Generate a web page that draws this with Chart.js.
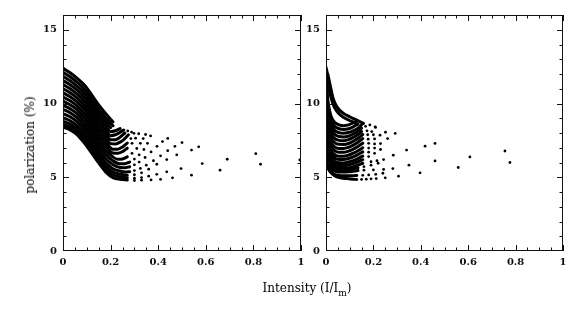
<!DOCTYPE html>
<html>
<head>
<meta charset="utf-8">
<script src="https://cdn.jsdelivr.net/npm/chart.js@4.4.1/dist/chart.umd.min.js"></script>
<style>
  html, body { margin: 0; padding: 0; background: #fff; }
  #wrap { position: relative; width: 577px; height: 320px; overflow: hidden; }
  canvas { position: absolute; top: 0; }
  #leftCanvas { left: 0; }
  #rightCanvas { left: 304px; }
  .axis-title { position: absolute; font-family: 'DejaVu Serif', serif; font-size: 12px; color: #000; white-space: nowrap; }
  #yTitle { left: 30px; top: 145px; transform: translate(-50%, -50%) rotate(-90deg); }
  #xTitle { left: 307px; top: 281px; transform: translateX(-50%); }
  #xTitle .sub { font-size: 9px; position: relative; top: 4px; }
</style>
</head>
<body>
<div id="wrap">
  <canvas id="leftCanvas" width="310" height="320"></canvas>
  <canvas id="rightCanvas" width="273" height="320"></canvas>
  <div class="axis-title" id="yTitle">polarization (%)</div>
  <div class="axis-title" id="xTitle">Intensity (I/I<span class="sub">m</span>)</div>
</div>
<script>
/* tick values shared by both panels */
const xTicks = [0, 0.2, 0.4, 0.6, 0.8, 1];
const yTicks = [0, 5, 10, 15];

/* left panel: dense part of each model track (dots merge into a stripe) */
const leftRuns = [
  [[0,12.40],[0.03,12.08],[0.06,11.70],[0.09,11.25],[0.12,10.60],[0.15,9.90],[0.18,9.30],[0.21,8.75]],
  [[0,12.12],[0.03,11.81],[0.06,11.43],[0.09,10.97],[0.12,10.32],[0.15,9.62],[0.18,9.02],[0.21,8.49]],
  [[0,11.84],[0.03,11.54],[0.06,11.16],[0.09,10.70],[0.12,10.05],[0.15,9.35],[0.18,8.75],[0.20,8.36]],
  [[0,11.56],[0.03,11.27],[0.06,10.90],[0.09,10.42],[0.12,9.77],[0.15,9.07],[0.18,8.47],[0.20,8.09],[0.22,8.15],[0.24,8.30]],
  [[0,11.28],[0.03,11.00],[0.06,10.63],[0.09,10.15],[0.12,9.49],[0.15,8.80],[0.18,8.19],[0.20,7.82],[0.22,7.88],[0.24,8.05],[0.255,8.20]],
  [[0,11.00],[0.03,10.73],[0.06,10.36],[0.09,9.87],[0.12,9.22],[0.15,8.52],[0.18,7.92],[0.20,7.55],[0.22,7.55],[0.24,7.72],[0.26,8.00]],
  [[0,10.72],[0.03,10.45],[0.06,10.09],[0.09,9.60],[0.12,8.94],[0.15,8.25],[0.18,7.64],[0.20,7.28],[0.22,7.26],[0.24,7.38],[0.26,7.62],[0.275,7.88]],
  [[0,10.44],[0.03,10.18],[0.06,9.82],[0.09,9.32],[0.12,8.66],[0.15,7.97],[0.18,7.36],[0.21,6.90],[0.23,6.90],[0.25,7.05],[0.27,7.32]],
  [[0,10.16],[0.03,9.91],[0.06,9.56],[0.09,9.04],[0.12,8.39],[0.15,7.70],[0.18,7.09],[0.21,6.64],[0.23,6.62],[0.25,6.74],[0.27,6.97]],
  [[0,9.88],[0.03,9.64],[0.06,9.29],[0.09,8.77],[0.12,8.11],[0.15,7.42],[0.18,6.81],[0.21,6.37],[0.23,6.22],[0.25,6.24],[0.27,6.38]],
  [[0,9.60],[0.03,9.37],[0.06,9.02],[0.09,8.49],[0.12,7.84],[0.15,7.15],[0.18,6.54],[0.21,6.11],[0.24,5.91],[0.26,5.92],[0.28,6.03]],
  [[0,9.32],[0.03,9.10],[0.06,8.75],[0.09,8.22],[0.12,7.56],[0.15,6.87],[0.18,6.26],[0.21,5.85],[0.24,5.66],[0.26,5.65],[0.28,5.71]],
  [[0,9.04],[0.03,8.83],[0.06,8.48],[0.09,7.94],[0.12,7.28],[0.15,6.60],[0.18,5.98],[0.21,5.58],[0.24,5.42],[0.26,5.36],[0.28,5.38]],
  [[0,8.80],[0.03,8.60],[0.06,8.25],[0.09,7.70],[0.12,7.05],[0.15,6.36],[0.18,5.75],[0.21,5.36],[0.24,5.21],[0.27,5.14]],
  [[0,8.60],[0.03,8.40],[0.06,8.06],[0.09,7.51],[0.12,6.85],[0.15,6.17],[0.18,5.55],[0.21,5.17],[0.24,5.03],[0.27,4.97]],
  [[0,8.40],[0.03,8.21],[0.06,7.87],[0.09,7.31],[0.12,6.65],[0.15,5.97],[0.18,5.35],[0.21,4.98],[0.24,4.86],[0.27,4.81]]
];

/* left panel: sparse outer part of the same tracks (separate dots) */
const leftDots = [
  [],
  [],
  [],
  [],
  [],
  [[0.272,8.14]],
  [[0.288,8.06]],
  [[0.285,7.62],[0.298,7.98]],
  [[0.29,7.30],[0.305,7.65],[0.318,7.95]],
  [[0.29,6.62],[0.31,6.95],[0.325,7.30],[0.337,7.62],[0.347,7.90]],
  [[0.30,6.23],[0.32,6.52],[0.34,6.88],[0.355,7.30],[0.368,7.80]],
  [[0.30,5.84],[0.32,6.03],[0.345,6.34],[0.37,6.72],[0.395,7.10],[0.418,7.42],[0.44,7.63]],
  [[0.30,5.45],[0.325,5.60],[0.35,5.82],[0.38,6.12],[0.41,6.45],[0.44,6.80],[0.47,7.10],[0.50,7.35]],
  [[0.30,5.17],[0.33,5.30],[0.36,5.55],[0.394,5.88],[0.436,6.20],[0.478,6.52],[0.54,6.84],[0.57,7.06]],
  [[0.30,4.94],[0.33,4.98],[0.36,5.07],[0.394,5.20],[0.436,5.37],[0.496,5.59],[0.585,5.93],[0.69,6.22],[0.81,6.60]],
  [[0.30,4.78],[0.33,4.80],[0.37,4.82],[0.41,4.86],[0.46,4.96],[0.54,5.14],[0.66,5.48],[0.83,5.88],[0.995,6.17]]
];

/* right panel: dense part of each track (steep drop at the axis, then a fan) */
const rightRuns = [
  [[0,12.45],[0.005,12.10],[0.01,11.80],[0.02,11.05],[0.03,10.35],[0.046,9.78],[0.074,9.33],[0.10,9.10],[0.13,8.87],[0.158,8.65]],
  [[0,12.15],[0.004,11.75],[0.008,11.40],[0.014,10.90],[0.022,10.35],[0.035,9.75],[0.055,9.30],[0.075,9.05],[0.095,8.88],[0.115,8.74],[0.13,8.62]],
  [[0,11.85],[0.004,10.90],[0.008,10.20],[0.014,9.60],[0.022,9.10],[0.035,8.75],[0.055,8.55],[0.075,8.50],[0.095,8.55],[0.115,8.68],[0.13,8.80]],
  [[0,11.70],[0.004,10.65],[0.008,9.90],[0.014,9.30],[0.022,8.83],[0.035,8.48],[0.055,8.29],[0.075,8.24],[0.095,8.29],[0.115,8.42],[0.135,8.60]],
  [[0,11.55],[0.004,10.40],[0.008,9.60],[0.014,9.00],[0.022,8.55],[0.035,8.20],[0.055,8.02],[0.075,7.98],[0.095,8.03],[0.115,8.15],[0.135,8.33],[0.15,8.55]],
  [[0,11.40],[0.004,10.15],[0.008,9.33],[0.014,8.70],[0.022,8.25],[0.035,7.93],[0.055,7.76],[0.075,7.73],[0.095,7.79],[0.115,7.93],[0.135,8.12],[0.15,8.33]],
  [[0,11.25],[0.004,9.90],[0.008,9.05],[0.014,8.40],[0.022,7.95],[0.035,7.65],[0.055,7.50],[0.075,7.48],[0.095,7.55],[0.115,7.70],[0.135,7.90],[0.15,8.10]],
  [[0,11.10],[0.004,9.65],[0.008,8.78],[0.014,8.10],[0.022,7.65],[0.035,7.37],[0.055,7.23],[0.075,7.22],[0.095,7.29],[0.115,7.44],[0.135,7.64],[0.155,7.90]],
  [[0,10.95],[0.004,9.40],[0.008,8.50],[0.014,7.80],[0.022,7.35],[0.035,7.08],[0.055,6.95],[0.075,6.95],[0.095,7.03],[0.115,7.18],[0.135,7.38],[0.155,7.62]],
  [[0,10.80],[0.004,9.18],[0.008,8.25],[0.014,7.55],[0.022,7.10],[0.035,6.82],[0.055,6.69],[0.075,6.69],[0.095,6.77],[0.115,6.91],[0.135,7.09],[0.155,7.31]],
  [[0,10.65],[0.004,8.95],[0.008,8.00],[0.014,7.30],[0.022,6.85],[0.035,6.55],[0.055,6.42],[0.075,6.42],[0.095,6.50],[0.115,6.63],[0.135,6.80],[0.155,7.00]],
  [[0,10.50],[0.004,8.73],[0.008,7.75],[0.014,7.08],[0.022,6.63],[0.035,6.33],[0.055,6.20],[0.075,6.20],[0.095,6.27],[0.115,6.38],[0.135,6.54],[0.155,6.72]],
  [[0,10.35],[0.004,8.50],[0.008,7.50],[0.014,6.85],[0.022,6.40],[0.035,6.10],[0.055,5.98],[0.075,5.97],[0.095,6.03],[0.115,6.13],[0.135,6.27],[0.155,6.43]],
  [[0,10.20],[0.004,8.28],[0.008,7.28],[0.014,6.65],[0.022,6.21],[0.035,5.93],[0.055,5.80],[0.075,5.79],[0.095,5.84],[0.115,5.93],[0.135,6.05],[0.155,6.19]],
  [[0,10.05],[0.004,8.05],[0.008,7.05],[0.014,6.45],[0.022,6.02],[0.035,5.75],[0.055,5.62],[0.075,5.60],[0.095,5.64],[0.115,5.72],[0.135,5.83],[0.155,5.95]],
  [[0,9.90],[0.004,7.83],[0.008,6.83],[0.014,6.23],[0.022,5.84],[0.035,5.60],[0.055,5.49],[0.075,5.48],[0.095,5.51],[0.115,5.57],[0.135,5.64]],
  [[0,9.75],[0.004,7.60],[0.008,6.60],[0.014,6.00],[0.022,5.65],[0.035,5.45],[0.055,5.36],[0.075,5.35],[0.095,5.37],[0.115,5.41],[0.135,5.45]],
  [[0,9.40],[0.004,7.10],[0.008,6.15],[0.014,5.65],[0.022,5.38],[0.035,5.20],[0.055,5.12],[0.075,5.10],[0.095,5.10],[0.115,5.11],[0.13,5.12]],
  [[0,9.00],[0.003,6.30],[0.006,5.75],[0.012,5.50],[0.025,5.25],[0.046,5.02],[0.065,4.95],[0.088,4.91],[0.11,4.87],[0.13,4.85]]
];

/* right panel: sparse outer dots */
const rightDots = [
  [[0.185,8.55],[0.207,8.42]],
  [],
  [],
  [],
  [],
  [],
  [[0.167,8.45]],
  [[0.173,8.15]],
  [[0.176,7.88],[0.193,8.10],[0.209,8.38]],
  [[0.178,7.58],[0.20,7.88]],
  [[0.18,7.30],[0.205,7.60],[0.228,7.85],[0.251,8.05]],
  [[0.18,6.98],[0.205,7.26]],
  [[0.18,6.70],[0.205,6.98],[0.23,7.28],[0.26,7.62],[0.292,7.97]],
  [[0.18,6.40],[0.205,6.62],[0.23,6.88]],
  [[0.19,6.05],[0.215,6.12],[0.243,6.20],[0.284,6.50],[0.34,6.84],[0.418,7.11],[0.46,7.29]],
  [[0.16,5.72],[0.19,5.82],[0.22,5.95]],
  [[0.16,5.48],[0.20,5.50],[0.243,5.53],[0.282,5.59],[0.35,5.82],[0.46,6.11],[0.607,6.38],[0.755,6.78]],
  [[0.155,5.13],[0.18,5.16],[0.21,5.20],[0.24,5.27]],
  [[0.15,4.85],[0.17,4.87],[0.19,4.89],[0.212,4.91],[0.25,4.96],[0.306,5.07],[0.397,5.30],[0.558,5.66],[0.776,6.00]]
];

const INK = '#000';
const tickFont = { family: 'DejaVu Serif', size: 10, weight: 'bold' };

// box round the plot with inward major/minor ticks on all four sides
const framePlugin = {
  id: 'frame',
  afterDatasetsDraw(chart) {
    const { ctx, chartArea: a, scales: { x, y } } = chart;
    ctx.save();
    ctx.strokeStyle = '#111';
    ctx.lineWidth = 1;
    ctx.beginPath();
    for (let i = 0; i <= 20; i++) {
      const px = Math.round(x.getPixelForValue(i * 0.05)) + 0.5;
      const len = i % 4 === 0 ? 6 : 3.5;
      ctx.moveTo(px, a.bottom); ctx.lineTo(px, a.bottom - len);
      ctx.moveTo(px, a.top); ctx.lineTo(px, a.top + len);
    }
    for (let v = 1; v < 16; v++) {
      const py = Math.round(y.getPixelForValue(v)) + 0.5;
      const len = v % 5 === 0 ? 6 : 3.5;
      ctx.moveTo(a.left, py); ctx.lineTo(a.left + len, py);
      ctx.moveTo(a.right, py); ctx.lineTo(a.right - len, py);
    }
    ctx.stroke();
    ctx.strokeRect(a.left + 0.5, a.top + 0.5, a.right - a.left - 1, a.bottom - a.top - 1);
    ctx.restore();
  }
};

function toXY(list) {
  return list.map(p => ({ x: p[0], y: p[1] }));
}

function makePanel(canvasId, runs, dots, yAxisWidth, padRight) {
  const datasets = runs.map(run => ({
    data: toXY(run),
    showLine: true,
    borderColor: INK,
    borderWidth: 3,
    borderCapStyle: 'round',
    borderJoinStyle: 'round',
    cubicInterpolationMode: 'monotone',
    pointRadius: 0,
    pointHoverRadius: 0
  }));
  datasets.push({
    data: toXY(dots.flat()),
    showLine: false,
    pointRadius: 1.4,
    pointHoverRadius: 1.4,
    pointBackgroundColor: INK,
    pointBorderWidth: 0
  });

  return new Chart(document.getElementById(canvasId), {
    type: 'scatter',
    data: { datasets },
    options: {
      responsive: false,
      animation: false,
      devicePixelRatio: 1,
      events: [],
      layout: { padding: { left: 0, top: 15, right: padRight, bottom: 0 } },
      plugins: { legend: { display: false }, tooltip: { enabled: false } },
      scales: {
        x: {
          type: 'linear', min: 0, max: 1,
          grid: { display: false, drawTicks: false },
          border: { display: false },
          afterBuildTicks: s => { s.ticks = xTicks.map(v => ({ value: v })); },
          afterFit: s => { s.height = 69; },
          ticks: { padding: 5, color: '#111', font: tickFont, maxRotation: 0, autoSkip: false, callback: v => String(v) }
        },
        y: {
          type: 'linear', min: 0, max: 16,
          grid: { display: false, drawTicks: false },
          border: { display: false },
          afterBuildTicks: s => { s.ticks = yTicks.map(v => ({ value: v })); },
          afterFit: s => { s.width = yAxisWidth; },
          ticks: { padding: 6, color: '#111', font: tickFont, autoSkip: false, callback: v => String(v) }
        }
      }
    },
    plugins: [framePlugin]
  });
}

makePanel('leftCanvas', leftRuns, leftDots, 63, 9);
makePanel('rightCanvas', rightRuns, rightDots, 22, 14);
</script>
</body>
</html>
